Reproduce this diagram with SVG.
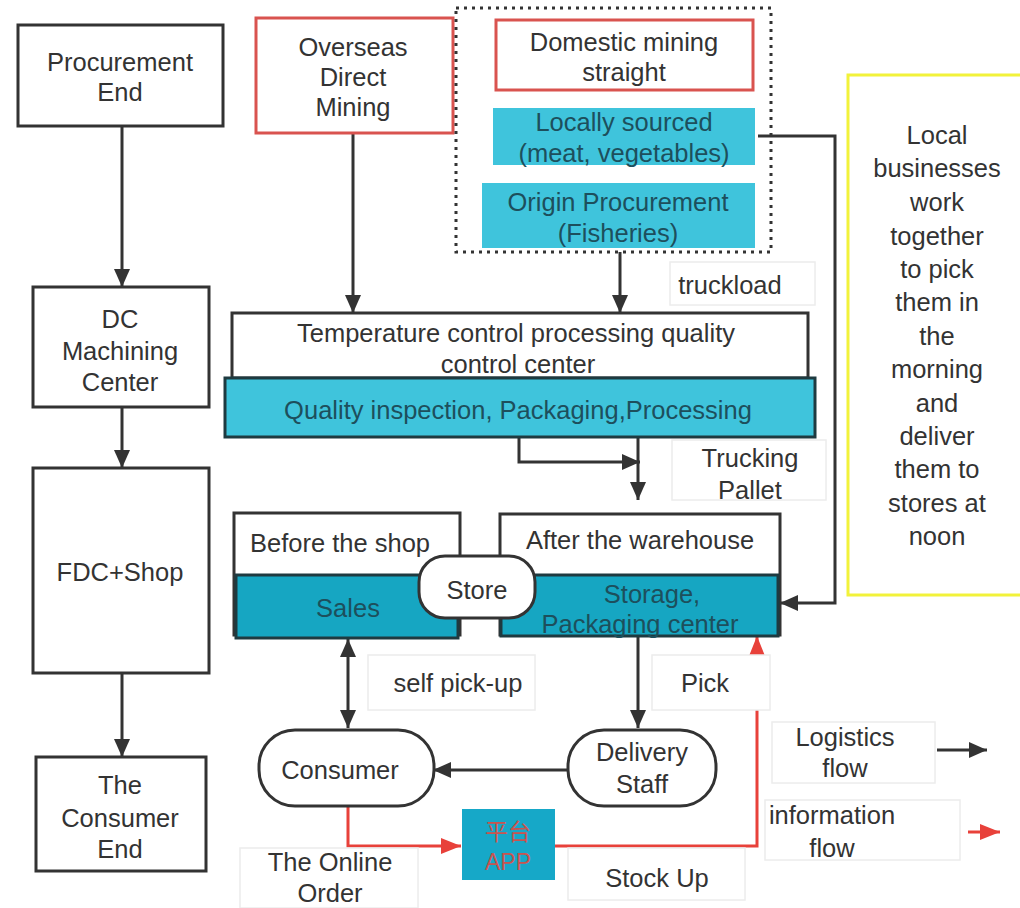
<svg xmlns="http://www.w3.org/2000/svg" width="1020" height="908" viewBox="0 0 1020 908">
<style>
text{font-family:"Liberation Sans",Arial,sans-serif;font-size:25.5px;fill:#333;text-anchor:middle}
.box{fill:#fff;stroke:#333;stroke-width:3}
.red{fill:#fff;stroke:#d9534f;stroke-width:3}
.cy{fill:#3fc4dc;stroke:none}
.cyd{fill:#16a6c2;stroke:#1e3a40;stroke-width:3}
.lab{fill:#fff;stroke:#ececec;stroke-width:1.5}
.ln{fill:none;stroke:#333;stroke-width:3}
.rl{fill:none;stroke:#e8413a;stroke-width:3}
.dk{fill:#1d4f5c}
</style>
<defs>
<marker id="ah" markerUnits="userSpaceOnUse" markerWidth="20" markerHeight="20" refX="18" refY="10" orient="auto"><path d="M0,2 L18,10 L0,18 Z" fill="#333"/></marker>
<marker id="ahs" markerUnits="userSpaceOnUse" markerWidth="20" markerHeight="20" refX="2" refY="10" orient="auto"><path d="M20,2 L2,10 L20,18 Z" fill="#333"/></marker>
<marker id="ar" markerUnits="userSpaceOnUse" markerWidth="22" markerHeight="20" refX="20" refY="10" orient="auto"><path d="M0,2 L20,10 L0,18 Z" fill="#e8413a"/></marker>
</defs>

<g id="connectors">
<line class="ln" x1="122" y1="126" x2="122" y2="287" marker-end="url(#ah)"/>
<line class="ln" x1="122" y1="407" x2="122" y2="468" marker-end="url(#ah)"/>
<line class="ln" x1="122" y1="673" x2="122" y2="757" marker-end="url(#ah)"/>
<line class="ln" x1="353" y1="133" x2="353" y2="313" marker-end="url(#ah)"/>
<line class="ln" x1="620" y1="252" x2="620" y2="313" marker-end="url(#ah)"/>
<polyline class="ln" points="758,136 835,136 835,603 780,603" marker-end="url(#ah)"/>
<polyline class="ln" points="519,437 519,462 640,462" marker-end="url(#ah)"/>
<line class="ln" x1="638" y1="437" x2="638" y2="500" marker-end="url(#ah)"/>
<line class="ln" x1="348" y1="639" x2="348" y2="728" marker-start="url(#ahs)" marker-end="url(#ah)"/>
<line class="ln" x1="638" y1="637" x2="638" y2="728" marker-end="url(#ah)"/>
<line class="ln" x1="568" y1="770" x2="433" y2="770" marker-end="url(#ah)"/>
<polyline class="rl" points="348,806 348,846 461,846" marker-end="url(#ar)"/>
<polyline class="rl" points="555,846 757,846 757,636" marker-end="url(#ar)"/>
<line class="ln" x1="937" y1="750" x2="987" y2="750" marker-end="url(#ah)"/>
<line class="rl" x1="968" y1="832" x2="1000" y2="832" marker-end="url(#ar)"/>
</g>

<g id="procurement-end"><rect class="box" x="18" y="25" width="205" height="101"/><text x="120" y="71">Procurement</text><text x="120" y="101">End</text></g>
<g id="dc-machining"><rect class="box" x="33" y="287" width="176" height="120"/><text x="120" y="328">DC</text><text x="120" y="360">Machining</text><text x="120" y="391">Center</text></g>
<g id="fdc-shop"><rect class="box" x="33" y="468" width="176" height="205"/><text x="120" y="581">FDC+Shop</text></g>
<g id="consumer-end"><rect class="box" x="36" y="757" width="170" height="114"/><text x="120" y="794">The</text><text x="120" y="827">Consumer</text><text x="120" y="858">End</text></g>

<g id="overseas"><rect class="red" x="256" y="18" width="197" height="115"/><text x="353" y="56">Overseas</text><text x="353" y="86">Direct</text><text x="353" y="116">Mining</text></g>

<g id="domestic-group"><rect x="456" y="8" width="315" height="244" fill="none" stroke="#333" stroke-width="3" stroke-dasharray="3,5"/></g>
<g id="domestic"><rect class="red" x="496" y="20" width="257" height="70"/><text x="624" y="51">Domestic mining</text><text x="624" y="81">straight</text></g>
<g id="locally"><rect class="cy" x="493" y="108" width="262" height="57"/><text class="dk" x="624" y="131">Locally sourced</text><text class="dk" x="624" y="162">(meat, vegetables)</text></g>
<g id="origin"><rect class="cy" x="482" y="183" width="273" height="65"/><text class="dk" x="618" y="211">Origin Procurement</text><text class="dk" x="618" y="242">(Fisheries)</text></g>

<g id="local-businesses"><rect x="848" y="75" width="190" height="520" fill="#fff" stroke="#f2f23a" stroke-width="3"/>
<text x="937" y="144">Local</text><text x="937" y="177">businesses</text><text x="937" y="211">work</text><text x="937" y="245">together</text><text x="937" y="278">to pick</text><text x="937" y="311">them in</text><text x="937" y="345">the</text><text x="937" y="378">morning</text><text x="937" y="412">and</text><text x="937" y="445">deliver</text><text x="937" y="478">them to</text><text x="937" y="512">stores at</text><text x="937" y="545">noon</text></g>

<g id="truckload"><rect class="lab" x="670" y="262" width="145" height="43"/><text x="730" y="294">truckload</text></g>

<g id="temp-control"><rect class="box" x="232" y="313" width="576" height="65"/><text x="516" y="342">Temperature control processing quality</text><text x="518" y="373">control center</text></g>
<g id="quality"><rect x="225" y="378" width="590" height="59" fill="#3fc4dc" stroke="#1e3a40" stroke-width="3"/><text class="dk" x="518" y="419">Quality inspection, Packaging,Processing</text></g>

<g id="trucking"><rect class="lab" x="672" y="440" width="154" height="60"/><text x="750" y="467">Trucking</text><text x="750" y="499">Pallet</text></g>

<g id="before-shop"><rect class="box" x="234" y="513" width="226" height="122"/><rect class="cyd" x="236" y="575" width="222" height="63"/><text x="340" y="552">Before the shop</text><text class="dk" x="348" y="617">Sales</text></g>
<g id="after-warehouse"><rect class="box" x="500" y="514" width="280" height="121"/><rect class="cyd" x="501" y="575" width="277" height="61"/><text x="640" y="549">After the warehouse</text><text class="dk" x="652" y="603">Storage,</text><text class="dk" x="640" y="633">Packaging center</text></g>
<g id="store"><rect class="box" x="419" y="556" width="116" height="62" rx="26"/><text x="477" y="599">Store</text></g>

<g id="self-pickup"><rect class="lab" x="368" y="655" width="167" height="55"/><text x="458" y="692">self pick-up</text></g>
<g id="pick"><rect class="lab" x="652" y="655" width="118" height="55"/><text x="705" y="692">Pick</text></g>

<g id="consumer"><rect class="box" x="259" y="730" width="175" height="76" rx="36"/><text x="340" y="779">Consumer</text></g>
<g id="delivery"><rect class="box" x="568" y="730" width="148" height="76" rx="36"/><text x="642" y="761">Delivery</text><text x="642" y="793">Staff</text></g>

<g id="app"><rect x="462" y="809" width="93" height="71" fill="#16a8c8"/><text x="508" y="840" style="fill:#c8544f;font-size:23px;font-family:'Liberation Sans','Noto Sans CJK SC',sans-serif">平台</text><text x="508" y="870" style="fill:#c8544f;font-size:23px">APP</text></g>

<g id="online-order"><rect class="lab" x="240" y="848" width="178" height="60"/><text x="330" y="871">The Online</text><text x="330" y="902">Order</text></g>
<g id="stock-up"><rect class="lab" x="568" y="848" width="177" height="52"/><text x="657" y="887">Stock Up</text></g>

<g id="legend-logistics"><rect class="lab" x="772" y="722" width="163" height="61"/><text x="845" y="746">Logistics</text><text x="845" y="777">flow</text></g>
<g id="legend-info"><rect class="lab" x="765" y="800" width="195" height="60"/><text x="832" y="824">information</text><text x="832" y="857">flow</text></g>
</svg>
